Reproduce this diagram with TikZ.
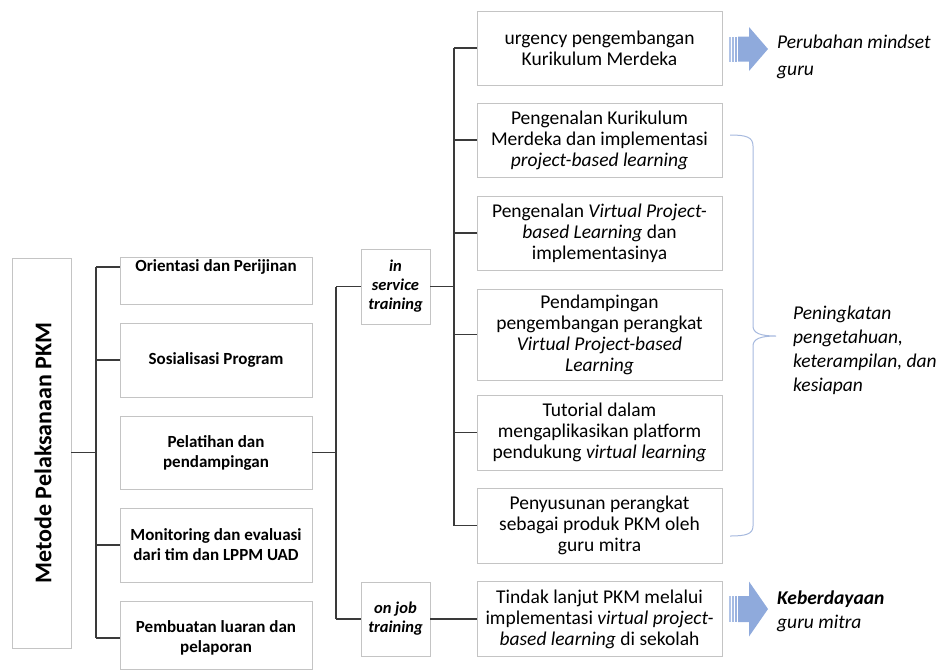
\documentclass[tikz,border=0pt]{standalone}
\usepackage{fontspec}
\setmainfont{Carlito}
\definecolor{boxgray}{HTML}{C4C4C4}
\definecolor{linegray}{HTML}{3A3A3A}
\definecolor{arrowblue}{HTML}{8FAADC}
\definecolor{bracecol}{HTML}{A6B9DE}
\begin{document}
\begin{tikzpicture}[x=1pt,y=-1pt,
  box/.style={draw=boxgray, line width=0.9pt, fill=white, inner sep=0pt, align=center},
  conn/.style={draw=linegray, line width=1.2pt},
  lfont/.style={font=\bfseries\fontsize{17}{20}\selectfont},
  mfont/.style={font=\bfseries\itshape\fontsize{16.5}{19}\selectfont},
  rfont/.style={font=\fontsize{19.5}{21}\selectfont},
  ofont/.style={font=\itshape\fontsize{19.5}{24}\selectfont, align=left, anchor=west, inner sep=0pt},
  barrow/.style={fill=arrowblue, draw=none}
]
\useasboundingbox (0,0) rectangle (939,670);

% left main box
\node[box, minimum width=59pt, minimum height=390pt] (L) at (41.5,453) {};
\node[rotate=90, font=\bfseries\fontsize{24}{28}\selectfont] (Lt) at (43,453) {Metode Pelaksanaan PKM};

% column 2
\node[box, minimum width=192pt, minimum height=47pt] (b1) at (216,280.5) {};
\node[lfont] (b1t) at (216,267) {Orientasi dan Perijinan};
\node[box, lfont, minimum width=192pt, minimum height=74pt] (b2) at (216,360) {Sosialisasi Program};
\node[box, lfont, minimum width=192pt, minimum height=73pt] (b3) at (216,452.5) {Pelatihan dan\\pendampingan};
\node[box, lfont, minimum width=192pt, minimum height=74pt] (b4) at (216,545) {Monitoring dan evaluasi\\dari tim dan LPPM UAD};
\node[box, minimum width=192pt, minimum height=68pt] (b5) at (216,635) {};
\node[lfont, align=center] (b5t) at (216,638) {Pembuatan luaran dan\\pelaporan};

% column 3
\node[box, mfont, minimum width=69pt, minimum height=75pt] (is) at (395.5,286.5) {in\\service\\training};
\node[box, mfont, minimum width=69pt, minimum height=74pt] (oj) at (395.5,619) {on job\\training};

% column 4
\node[box, rfont, minimum width=245pt, minimum height=74pt] (r1) at (599.5,48) {urgency pengembangan\\Kurikulum Merdeka};
\node[box, rfont, minimum width=245pt, minimum height=74pt] (r2) at (599.5,140) {Pengenalan Kurikulum\\Merdeka dan implementasi\\\textit{project-based learning}};
\node[box, rfont, minimum width=245pt, minimum height=74pt] (r3) at (599.5,233) {Pengenalan \textit{Virtual Project-}\\\textit{based Learning} dan\\implementasinya};
\node[box, rfont, minimum width=245pt, minimum height=91pt] (r4) at (599.5,334.5) {Pendampingan\\pengembangan perangkat\\\textit{Virtual Project-based}\\\textit{Learning}};
\node[box, rfont, minimum width=245pt, minimum height=75pt] (r5) at (599.5,432.5) {Tutorial dalam\\mengaplikasikan platform\\pendukung \textit{virtual learning}};
\node[box, rfont, minimum width=245pt, minimum height=75pt] (r6) at (599.5,525.5) {Penyusunan perangkat\\sebagai produk PKM oleh\\guru mitra};
\node[box, rfont, minimum width=245pt, minimum height=75pt] (r7) at (599.5,619) {Tindak lanjut PKM melalui\\implementasi \textit{virtual project-}\\\textit{based learning} di sekolah};

% connectors: main trunk
\coordinate (ja) at (96,267);
\coordinate (jb) at (96,638);
\draw[conn] (L.east |- b3.west) -- (96,452.5);
\draw[conn] (ja) -- (jb);
\draw[conn] (ja) -- (ja -| b1.west);
\draw[conn] (ja |- b2.west) -- (b2.west);
\draw[conn] (ja |- b4.west) -- (b4.west);
\draw[conn] (jb) -- (jb -| b5.west);

% connectors: pelatihan
\coordinate (ka) at (336,286.5);
\coordinate (kb) at (336,619);
\draw[conn] (b3.east) -- (b3.east -| ka);
\draw[conn] (ka) -- (kb);
\draw[conn] (ka) -- (is.west);
\draw[conn] (kb) -- (oj.west);

% connectors: in service
\coordinate (ma) at (454,48);
\coordinate (mb) at (454,525.5);
\draw[conn] (is.east) -- (is.east -| ma);
\draw[conn] (ma) -- (mb);
\draw[conn] (ma) -- (r1.west);
\draw[conn] (ma |- r2.west) -- (r2.west);
\draw[conn] (ma |- r3.west) -- (r3.west);
\draw[conn] (ma |- r4.west) -- (r4.west);
\draw[conn] (ma |- r5.west) -- (r5.west);
\draw[conn] (mb) -- (r6.west);
\draw[conn] (oj.east) -- (r7.west);

% block arrows
\foreach \cy/\hh/\sh in {49/22/12.5, 609/27.5/13}{
  \fill[arrowblue!70] (729,\cy-\sh) rectangle (730.5,\cy+\sh);
  \fill[arrowblue!80] (732,\cy-\sh) rectangle (733.5,\cy+\sh);
  \fill[arrowblue!90] (735,\cy-\sh) rectangle (736.5,\cy+\sh);
  \fill[barrow] (738,\cy-\sh) -- (749,\cy-\sh) -- (749,\cy-\hh) -- (768,\cy) -- (749,\cy+\hh) -- (749,\cy+\sh) -- (738,\cy+\sh) -- cycle;
}

% outcome texts
\node[ofont, font=\itshape\fontsize{19.5}{27}\selectfont] (o1) at (777,57) {Perubahan mindset\\guru};
\node[ofont] (o2) at (777,611) {\textbf{Keberdayaan}\\guru mitra};
\node[ofont] (o3) at (793,350) {Peningkatan\\pengetahuan,\\keterampilan, dan\\kesiapan};

% brace
\draw[bracecol, line width=1pt] (730,135) .. controls (746,135) and (753,137) .. (753,146)
  -- (753,326) .. controls (753,333) and (760,336) .. (776,336)
  .. controls (760,336) and (753,339) .. (753,346)
  -- (753,526) .. controls (753,534) and (746,536) .. (730,536);
\end{tikzpicture}
\end{document}
